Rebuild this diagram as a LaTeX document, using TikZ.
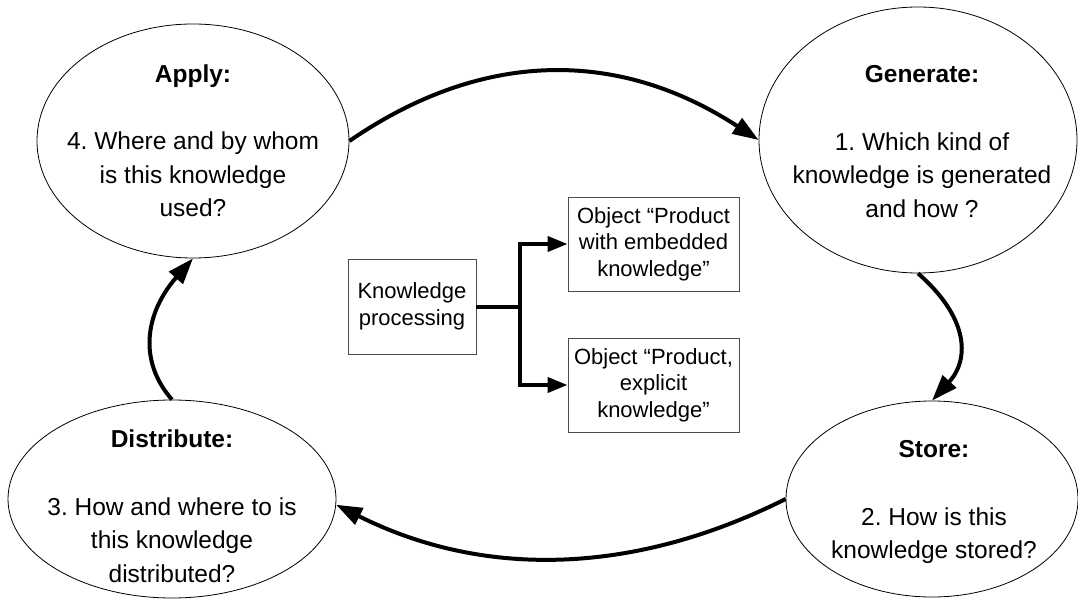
\documentclass[tikz,border=0pt]{standalone}
\usepackage{fontspec}
\setmainfont{Liberation Sans}
\usetikzlibrary{arrows.meta,shapes.geometric}
\frenchspacing
\begin{document}
\begin{tikzpicture}[x=1pt,y=-1pt,
  bubble/.style={draw=black, line width=0.8pt, ellipse, inner sep=0pt},
  bubbletext/.style={align=center, inner sep=0pt, font=\fontsize{24.5pt}{33.5pt}\selectfont},
  procbox/.style={draw=black!70, line width=0.9pt, align=center, inner sep=0pt,
    font=\fontsize{22pt}{26.5pt}\selectfont},
  cycleflow/.style={line width=4pt, -{Triangle[length=26pt,width=18pt]}},
  branch/.style={line width=4pt, -{Triangle[length=20pt,width=15pt]}, line join=miter},
]
\path[use as bounding box, fill=white] (0,0) rectangle (1078,604);

% the four phases of the knowledge cycle
\node[bubble, minimum width=312pt, minimum height=234pt] (apply) at (193,141) {};
\node[bubble, minimum width=318pt, minimum height=266pt] (gen)   at (918,140) {};
\node[bubble, minimum width=292pt, minimum height=196pt] (store) at (932,499) {};
\node[bubble, minimum width=328pt, minimum height=198pt] (dist)  at (172,499) {};

\node[bubbletext] (tapply) at (193,140.5)
  {\textbf{Apply:}\\[34pt]4. Where and by whom\\is this knowledge\\used?};
\node[bubbletext] (tgen) at (922,141.5)
  {\textbf{Generate:}\\[34pt]1. Which kind of\\knowledge is generated\\and how ?};
\node[bubbletext] (tstore) at (934,502)
  {\textbf{Store:}\\[34pt]2. How is this\\knowledge stored?};
\node[bubbletext] (tdist) at (172,506)
  {\textbf{Distribute:}\\[34pt]3. How and where to is\\this knowledge\\distributed?};

% cycle arrows
\draw[cycleflow] (apply.east) .. controls (483,49) and (619,49) .. (gen.west);
\draw[cycleflow] (gen.south) .. controls (967,316) and (971,358) .. (store.north);
\draw[cycleflow] (store.west) .. controls (632,576) and (482,578) .. (dist.-2);
\draw[cycleflow] (dist.north) .. controls (138,361) and (145,313) .. (apply.south);

% processing and its two result objects
\node[procbox, minimum width=128pt, minimum height=95pt] (kp) at (412,306.5)
  {Knowledge\\processing};
\node[procbox, minimum width=171pt, minimum height=94pt] (obj1) at (653.5,244)
  {Object “Product\\with embedded\\knowledge”};
\node[procbox, minimum width=171pt, minimum height=94pt] (obj2) at (653.5,385)
  {Object “Product,\\explicit\\knowledge”};

\coordinate (split) at (520,306.5);
\draw[line width=4pt] (kp.east) -- (split);
\draw[branch] (split) |- (obj1.west);
\draw[branch] (split) |- (obj2.west);
\end{tikzpicture}
\end{document}
